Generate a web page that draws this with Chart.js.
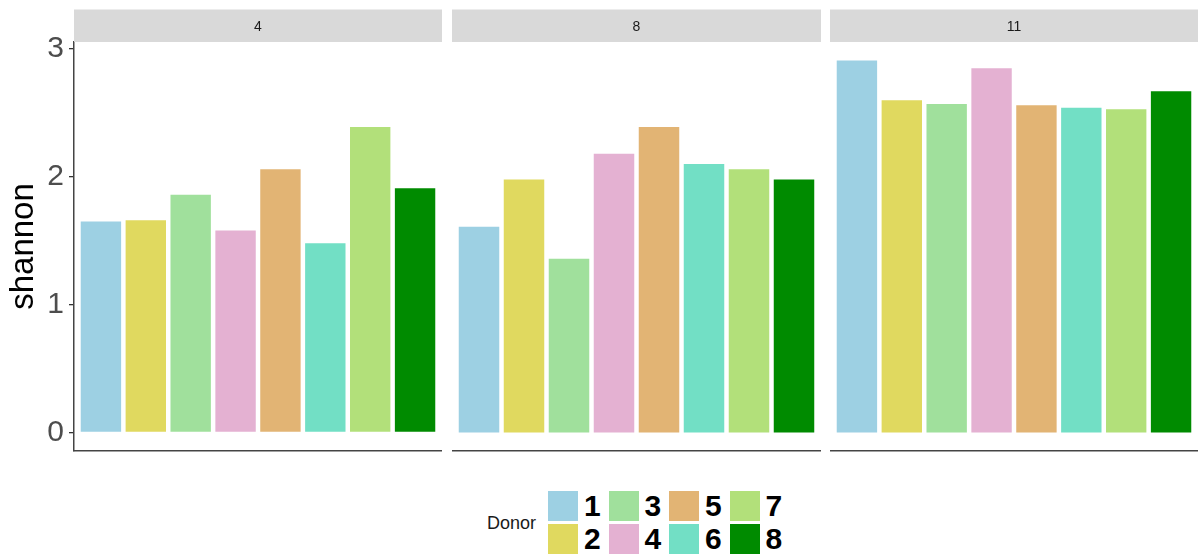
<!DOCTYPE html>
<html>
<head>
<meta charset="utf-8">
<script src="https://cdn.jsdelivr.net/npm/chart.js@4.4.1/dist/chart.umd.min.js"></script>
<style>
  html, body { margin: 0; padding: 0; background: #fff; }
  #figure { position: relative; width: 1198px; height: 555px; overflow: hidden; background: #fff;
            font-family: "Liberation Sans", Arial, Helvetica, sans-serif; }
  #figure canvas { position: absolute; top: 0; }
  .legend-title { position: absolute; left: 487px; top: 514px; font-size: 18px; line-height: 18px; color: #1a1a1a; }
  .legend-key { position: absolute; width: 30px; height: 30px; }
  .legend-label { position: absolute; font-size: 30px; line-height: 30px; font-weight: bold; color: #000; }
</style>
</head>
<body>
<div id="figure"></div>
<script>
// Shannon diversity per donor, one facet per time point
const timepoints = ['4', '8', '11'];
const donors = ['1', '2', '3', '4', '5', '6', '7', '8'];
const shannon4  = [1.65, 1.66, 1.86, 1.58, 2.06, 1.48, 2.39, 1.91];
const shannon8  = [1.61, 1.98, 1.36, 2.18, 2.39, 2.10, 2.06, 1.98];
const shannon11 = [2.91, 2.60, 2.57, 2.85, 2.56, 2.54, 2.53, 2.67];
const donorColors = ['#9dd0e3', '#e0d95f', '#a0e09c', '#e4b1d2', '#e2b474', '#72dfc5', '#b2e07a', '#008b00'];
const yTicks = [0, 1, 2, 3];
const yAxisTitle = 'shannon';
const legendTitle = 'Donor';

const FONT = '"Liberation Sans", Arial, Helvetica, sans-serif';
const panelValues = [shannon4, shannon8, shannon11];

// shared y range with 5% padding either side, ggplot style
const allValues = panelValues.flat();
const yMaxData = Math.max(...allValues);
const yMin = -0.05 * yMaxData;
const yMax = yMaxData * 1.05;

// grey facet strip with its label, drawn above the plot area
const facetStrip = {
  id: 'facetStrip',
  afterDraw(chart, args, opts) {
    const { ctx, chartArea } = chart;
    ctx.save();
    ctx.fillStyle = '#d9d9d9';
    ctx.fillRect(chartArea.left, opts.top, chartArea.right - chartArea.left, opts.height);
    ctx.fillStyle = '#1a1a1a';
    ctx.font = '14px ' + FONT;
    ctx.textAlign = 'center';
    ctx.textBaseline = 'middle';
    ctx.fillText(opts.text, (chartArea.left + chartArea.right) / 2, opts.top + opts.height / 2 + 1);
    ctx.restore();
  }
};

const fig = document.getElementById('figure');
const panelLayout = [
  { left: 0,   width: 442, axis: true },
  { left: 452, width: 369, axis: false },
  { left: 830, width: 368, axis: false }
];

timepoints.forEach((tp, p) => {
  const lay = panelLayout[p];
  const canvas = document.createElement('canvas');
  canvas.width = lay.width;
  canvas.height = 456;
  canvas.style.left = lay.left + 'px';
  canvas.style.width = lay.width + 'px';
  canvas.style.height = '456px';
  fig.appendChild(canvas);

  new Chart(canvas, {
    type: 'bar',
    plugins: [facetStrip],
    data: {
      datasets: [{
        label: tp,
        data: panelValues[p].map((v, i) => ({ x: i + 1, y: v })),
        backgroundColor: donorColors,
        borderWidth: 0,
        barPercentage: 0.9,
        categoryPercentage: 1.0
      }]
    },
    options: {
      responsive: false,
      animation: false,
      devicePixelRatio: 1,
      layout: { padding: { top: 42, bottom: 5, left: 0, right: 0 } },
      plugins: {
        legend: { display: false },
        tooltip: { enabled: false },
        facetStrip: { text: tp, top: 9.5, height: 32.5 }
      },
      scales: {
        x: {
          type: 'linear',
          min: 0.4,
          max: donors.length + 0.6,
          offset: false,
          grid: { display: false },
          ticks: { display: false },
          border: { display: true, color: '#444', width: 1.5 },
          afterFit: (s) => { s.height = 0; s.paddingLeft = 0; s.paddingRight = 0; }
        },
        y: {
          display: lay.axis,
          min: yMin,
          max: yMax,
          afterBuildTicks: (s) => { s.ticks = yTicks.map(v => ({ value: v })); },
          ticks: { font: { size: 30, family: FONT }, color: '#4d4d4d', padding: 5 },
          grid: { drawOnChartArea: false, drawTicks: true, tickLength: 5, color: '#333', lineWidth: 1.3 },
          border: { display: true, color: '#444', width: 1.5 },
          title: {
            display: true, text: yAxisTitle, color: '#000',
            font: { size: 33, family: FONT }, padding: { top: 4, bottom: 0 }
          },
          afterFit: (s) => {
            s.width = lay.axis ? 74 : 0;
            s.paddingTop = 0;
            s.paddingBottom = 0;
          }
        }
      }
    }
  });
});

// legend: two rows, filled column by column
const lt = document.createElement('div');
lt.className = 'legend-title';
lt.textContent = legendTitle;
fig.appendChild(lt);

donors.forEach((d, i) => {
  const col = Math.floor(i / 2), row = i % 2;
  const key = document.createElement('div');
  key.className = 'legend-key';
  key.style.left = (548 + col * 60.5) + 'px';
  key.style.top = (491 + row * 32.5) + 'px';
  key.style.background = donorColors[i];
  fig.appendChild(key);

  const lab = document.createElement('div');
  lab.className = 'legend-label';
  lab.style.left = (584 + col * 60.5) + 'px';
  lab.style.top = (491 + row * 32.5) + 'px';
  lab.textContent = d;
  fig.appendChild(lab);
});
</script>
</body>
</html>
